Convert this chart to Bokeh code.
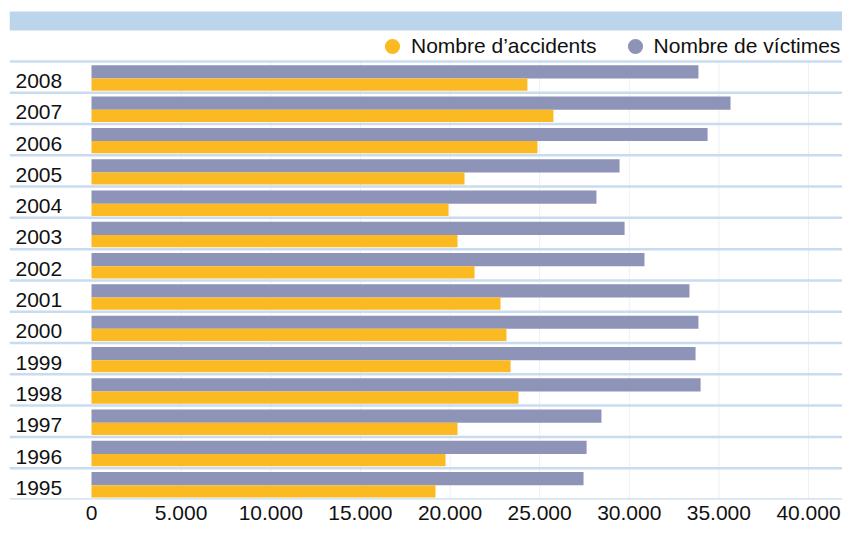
from bokeh.plotting import figure
from bokeh.models import (Range1d, Span, BoxAnnotation, Legend, LegendItem,
                          ColumnDataSource, FixedTicker, CustomJSTickFormatter)
from bokeh.core.properties import value
from bokeh.embed import file_html
from bokeh.resources import INLINE

# ---------------- data ----------------
years = ["1995", "1996", "1997", "1998", "1999", "2000", "2001",
         "2002", "2003", "2004", "2005", "2006", "2007", "2008"]
accidents = [19190, 19750, 20420, 23820, 23380, 23150, 22820,
             21370, 20420, 19920, 20810, 24880, 25770, 24320]
victims = [27450, 27620, 28450, 33980, 33700, 33860, 33360,
           30850, 29740, 28170, 29460, 34370, 35650, 33860]
x_ticks = [0, 5000, 10000, 15000, 20000, 25000, 30000, 35000, 40000]
series_names = ["Nombre d\u2019accidents", "Nombre de v\u00edctimes"]

# ---------------- style / layout ----------------
W, H = 842, 522
BOTTOM = 22
LEFT = 9
FRAME_H = H - BOTTOM
FRAME_W = W - LEFT
ROWS_TOP_PX = 61
n = len(years)
row_h = (FRAME_H - ROWS_TOP_PX) / n
X0_PX, X40_PX = 91, 808          # canvas x of 0 and of the last tick
px_per_unit = (X40_PX - X0_PX) / x_ticks[-1]
x_start = -(X0_PX - LEFT) / px_per_unit
x_end = x_start + FRAME_W / px_per_unit
y_top = n + ROWS_TOP_PX / row_h

YELLOW = "#FBBA21"
GRAY = "#8E94B7"
SEP = "#C9DCEF"
BAND = "#BDD5EB"
FONT = "Liberation Sans"

idx = list(range(n))
src = ColumnDataSource(dict(
    year=years,
    acc=accidents,
    vic=victims,
    y_vic=[i + 0.664 for i in idx],
    y_acc=[i + 0.258 for i in idx],
    y_lab=[i + 0.5 for i in idx],
))

p = figure(width=W, height=H, output_backend="svg", toolbar_location=None,
           x_range=Range1d(x_start, x_end), y_range=Range1d(0, y_top),
           y_axis_location=None, min_border_left=LEFT, min_border_right=0,
           min_border_top=0, min_border_bottom=BOTTOM,
           outline_line_color=None, background_fill_color="white",
           border_fill_color="white")
p.xgrid.visible = False
p.ygrid.visible = False

# faint vertical grid inside the rows area
p.segment(x0=x_ticks[1:], x1=x_ticks[1:], y0=0, y1=n,
          line_color="#EBF0F7", line_width=1)

p.hbar(y="y_vic", left=0, right="vic", height=0.422, source=src,
       fill_color=GRAY, line_color=None)
p.hbar(y="y_acc", left=0, right="acc", height=0.39, source=src,
       fill_color=YELLOW, line_color=None)

# year labels
p.text(x=x_start, y="y_lab", text="year", source=src, x_offset=6, y_offset=4,
       text_baseline="middle", text_align="left", text_font=value(FONT),
       text_font_size="21px", text_color="#111111")

# row separators
for k in range(n + 1):
    p.add_layout(Span(location=k, dimension="width", line_color=SEP,
                      line_width=2.5))

# top band
p.add_layout(BoxAnnotation(bottom=y_top - 30 / row_h, top=y_top - 11 / row_h,
                           fill_color=BAND, fill_alpha=1, line_color=None))

# legend (marker-only renderers, no visible points)
nan = float("nan")
r_acc = p.scatter(x=[nan], y=[nan], marker="circle", fill_color=YELLOW,
                  line_color=None)
r_vic = p.scatter(x=[nan], y=[nan], marker="circle", fill_color=GRAY,
                  line_color=None)
legend = Legend(items=[LegendItem(label=series_names[0], renderers=[r_acc]),
                       LegendItem(label=series_names[1], renderers=[r_vic])],
                orientation="horizontal", location=(373 - LEFT, FRAME_H - 66),
                glyph_width=38, glyph_height=38, label_standoff=0, spacing=19,
                padding=0, margin=0, border_line_color=None,
                background_fill_alpha=0, label_text_font=FONT,
                label_text_font_size="21px", label_text_color="#111111")
p.add_layout(legend)

# x axis
ax = p.xaxis[0]
ax.ticker = FixedTicker(ticks=x_ticks)
ax.formatter = CustomJSTickFormatter(
    code=r"return tick.toFixed(0).replace(/\B(?=(\d{3})+(?!\d))/g, '.');")
ax.axis_line_color = None
ax.major_tick_line_color = None
ax.minor_tick_line_color = None
ax.major_label_standoff = 0
ax.major_label_text_font = FONT
ax.major_label_text_font_size = "21px"
ax.major_label_text_color = "#111111"

open("out.html", "w").write(file_html(p, INLINE))
